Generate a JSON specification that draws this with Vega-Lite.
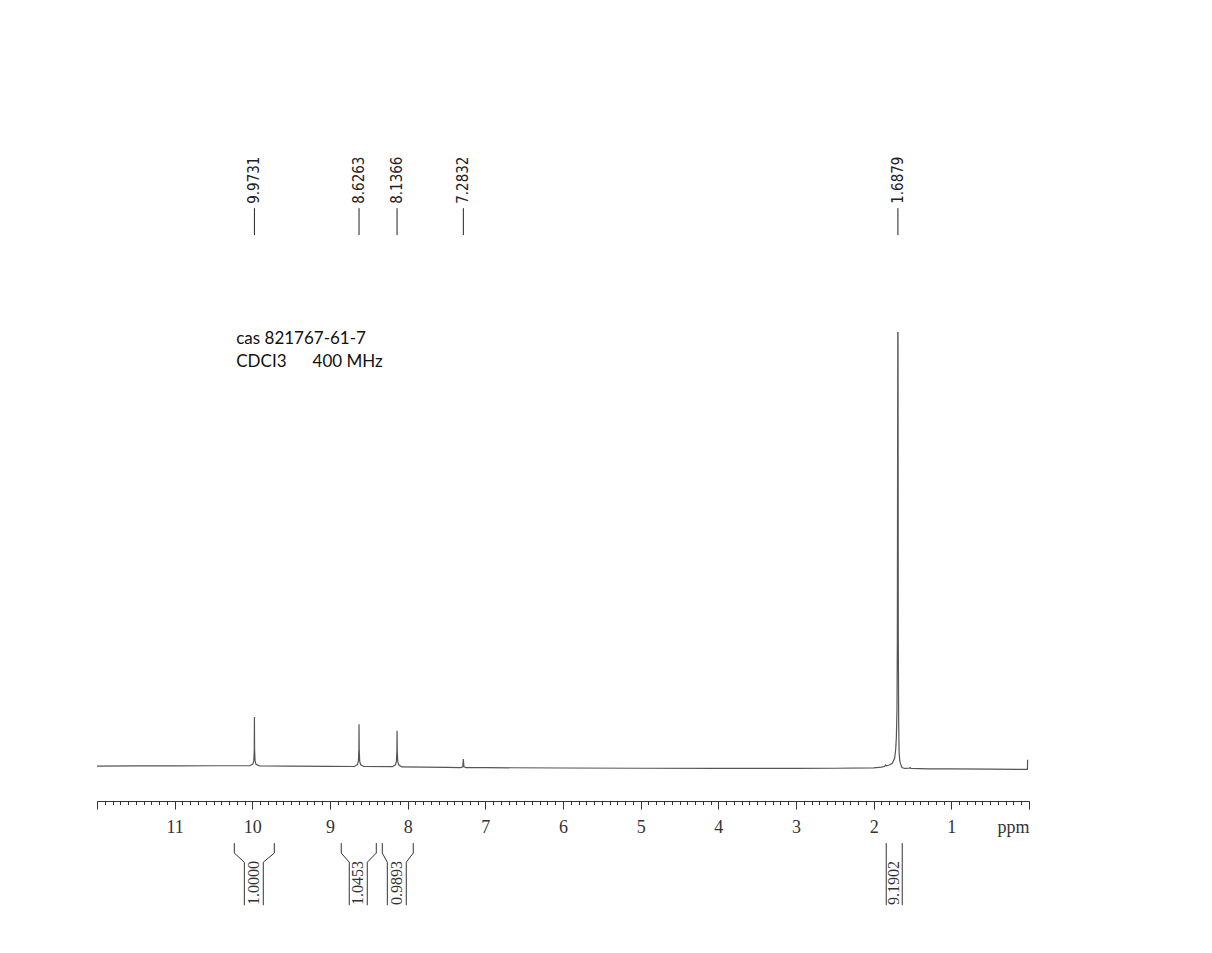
{
  "$schema": "https://vega.github.io/schema/vega-lite/v6.json",
  "width": 932,
  "height": 651,
  "autosize": "none",
  "padding": {"left": 97, "top": 150, "right": 183, "bottom": 152},
  "background": "white",
  "config": {"view": {"stroke": null}},
  "datasets": {
    "spectrum": [
      {"ppm": 12.0, "i": 0.05}, {"ppm": 11.5, "i": 0.1}, {"ppm": 11.0, "i": 0.1}, {"ppm": 10.5, "i": 0.12},
      {"ppm": 10.1, "i": 0.12}, {"ppm": 10.033, "i": 0.12}, {"ppm": 9.993, "i": 0.5}, {"ppm": 9.981, "i": 1.3},
      {"ppm": 9.975, "i": 4}, {"ppm": 9.9731, "i": 11.35}, {"ppm": 9.971, "i": 4}, {"ppm": 9.965, "i": 1.3},
      {"ppm": 9.953, "i": 0.45}, {"ppm": 9.91, "i": 0.1}, {"ppm": 9.5, "i": 0.05}, {"ppm": 9.0, "i": 0.0},
      {"ppm": 8.686, "i": -0.05}, {"ppm": 8.646, "i": 0.4}, {"ppm": 8.634, "i": 1.2}, {"ppm": 8.628, "i": 4},
      {"ppm": 8.6263, "i": 9.67}, {"ppm": 8.624, "i": 4}, {"ppm": 8.618, "i": 1.2}, {"ppm": 8.606, "i": 0.4},
      {"ppm": 8.566, "i": -0.05}, {"ppm": 8.197, "i": -0.1}, {"ppm": 8.157, "i": 0.35}, {"ppm": 8.145, "i": 1.1},
      {"ppm": 8.139, "i": 3.5}, {"ppm": 8.1366, "i": 8.2}, {"ppm": 8.134, "i": 3.5}, {"ppm": 8.128, "i": 1.1},
      {"ppm": 8.116, "i": 0.35}, {"ppm": 8.076, "i": -0.15}, {"ppm": 7.5, "i": -0.25}, {"ppm": 7.32, "i": -0.3},
      {"ppm": 7.29, "i": -0.1}, {"ppm": 7.2832, "i": 1.68}, {"ppm": 7.276, "i": -0.1}, {"ppm": 7.25, "i": -0.3},
      {"ppm": 7.0, "i": -0.32}, {"ppm": 6.0, "i": -0.4}, {"ppm": 5.0, "i": -0.45}, {"ppm": 4.0, "i": -0.5},
      {"ppm": 3.0, "i": -0.5}, {"ppm": 2.5, "i": -0.45}, {"ppm": 2.0, "i": -0.35}, {"ppm": 1.9, "i": -0.2},
      {"ppm": 1.86, "i": -0.05}, {"ppm": 1.847, "i": 0.3}, {"ppm": 1.835, "i": 0.1}, {"ppm": 1.8, "i": 0.3},
      {"ppm": 1.76, "i": 0.7}, {"ppm": 1.73, "i": 1.85}, {"ppm": 1.717, "i": 3.75}, {"ppm": 1.708, "i": 6.5},
      {"ppm": 1.7, "i": 13}, {"ppm": 1.695, "i": 30}, {"ppm": 1.6895, "i": 99.9}, {"ppm": 1.6865, "i": 99.9},
      {"ppm": 1.683, "i": 30}, {"ppm": 1.678, "i": 10}, {"ppm": 1.672, "i": 3}, {"ppm": 1.663, "i": 1.2},
      {"ppm": 1.655, "i": 0.6}, {"ppm": 1.636, "i": -0.3}, {"ppm": 1.6, "i": -0.5}, {"ppm": 1.54, "i": -0.45},
      {"ppm": 1.53, "i": -0.3}, {"ppm": 1.52, "i": -0.5}, {"ppm": 1.3, "i": -0.6}, {"ppm": 1.0, "i": -0.6},
      {"ppm": 0.5, "i": -0.65}, {"ppm": 0.1, "i": -0.7}, {"ppm": 0.025, "i": -0.7}, {"ppm": 0.02, "i": -0.7},
      {"ppm": 0.018, "i": 1.5}
    ],
    "peaks": [
      {"ppm": 9.9731}, {"ppm": 8.6263}, {"ppm": 8.1366}, {"ppm": 7.2832}, {"ppm": 1.6879}
    ],
    "integrals": [
      {"value": "1.0000", "mid": 9.981, "lo_out": 10.232, "lo_in": 10.103, "hi_in": 9.859, "hi_out": 9.717},
      {"value": "1.0453", "mid": 8.636, "lo_out": 8.855, "lo_in": 8.752, "hi_in": 8.52, "hi_out": 8.404},
      {"value": "0.9893", "mid": 8.14, "lo_out": 8.327, "lo_in": 8.262, "hi_in": 8.018, "hi_out": 7.928},
      {"value": "9.1902", "mid": 1.735, "lo_out": 1.838, "lo_in": 1.838, "hi_in": 1.632, "hi_out": 1.632}
    ],
    "note": [{"line1": "cas 821767-61-7", "solvent": "CDCI3", "freq": "400 MHz"}]
  },
  "layer": [
    {
      "data": {"name": "spectrum"},
      "mark": {"type": "line", "stroke": "#555", "strokeWidth": 1.2, "interpolate": "linear"},
      "encoding": {
        "x": {
          "field": "ppm", "type": "quantitative",
          "scale": {"domain": [12, 0], "nice": false, "zero": false},
          "axis": {
            "values": [0,0.1,0.2,0.3,0.4,0.5,0.6,0.7,0.8,0.9,1,1.1,1.2,1.3,1.4,1.5,1.6,1.7,1.8,1.9,2,2.1,2.2,2.3,2.4,2.5,2.6,2.7,2.8,2.9,3,3.1,3.2,3.3,3.4,3.5,3.6,3.7,3.8,3.9,4,4.1,4.2,4.3,4.4,4.5,4.6,4.7,4.8,4.9,5,5.1,5.2,5.3,5.4,5.5,5.6,5.7,5.8,5.9,6,6.1,6.2,6.3,6.4,6.5,6.6,6.7,6.8,6.9,7,7.1,7.2,7.3,7.4,7.5,7.6,7.7,7.8,7.9,8,8.1,8.2,8.3,8.4,8.5,8.6,8.7,8.8,8.9,9,9.1,9.2,9.3,9.4,9.5,9.6,9.7,9.8,9.9,10,10.1,10.2,10.3,10.4,10.5,10.6,10.7,10.8,10.9,11,11.1,11.2,11.3,11.4,11.5,11.6,11.7,11.8,11.9,12],
            "tickCount": 500,
            "labelExpr": "(datum.value > 0.5 && datum.value < 11.5 && abs(datum.value - round(datum.value)) < 0.01) ? format(datum.value, 'd') : ''",
            "labelOverlap": false, "labelFlush": false, "labelBound": false,
            "labelFont": "Liberation Serif", "labelFontSize": 18, "labelColor": "#333", "labelPadding": 9,
            "tickSize": {"condition": {"test": "abs(datum.value - round(datum.value)) < 0.01", "value": 8}, "value": 3.5},
            "tickColor": "#333", "tickWidth": 1, "domainColor": "#333", "domainWidth": 1, "grid": false,
            "title": "ppm", "titleFont": "Liberation Serif", "titleFontSize": 18, "titleFontWeight": "normal", "titleColor": "#333",
            "titleAnchor": "end", "titleAlign": "right", "titleBaseline": "alphabetic", "titleX": 932, "titleY": 31
          }
        },
        "y": {"field": "i", "type": "quantitative", "scale": {"domain": [-8, 142], "nice": false, "zero": false}, "axis": null}
      }
    },
    {
      "data": {"name": "peaks"},
      "mark": {"type": "rule", "stroke": "#222", "strokeWidth": 1},
      "encoding": {
        "x": {"field": "ppm", "type": "quantitative"},
        "y": {"datum": 122.4, "type": "quantitative"},
        "y2": {"datum": 128.6}
      }
    },
    {
      "data": {"name": "peaks"},
      "mark": {"type": "text", "angle": -90, "align": "left", "baseline": "middle", "font": "Liberation Sans Narrow, DejaVu Sans Condensed, sans-serif", "fontSize": 15, "fill": "#222"},
      "encoding": {
        "x": {"field": "ppm", "type": "quantitative"},
        "y": {"datum": 129.6, "type": "quantitative"},
        "text": {"field": "ppm", "type": "quantitative", "format": ".4f"}
      }
    },
    {
      "data": {"name": "integrals"},
      "mark": {"type": "rule", "stroke": "#333", "strokeWidth": 1},
      "encoding": {
        "x": {"field": "lo_out", "type": "quantitative"},
        "y": {"datum": -17.7, "type": "quantitative"},
        "y2": {"datum": -20}
      }
    },
    {
      "data": {"name": "integrals"},
      "mark": {"type": "rule", "stroke": "#333", "strokeWidth": 1},
      "encoding": {
        "x": {"field": "hi_out", "type": "quantitative"},
        "y": {"datum": -17.7, "type": "quantitative"},
        "y2": {"datum": -20}
      }
    },
    {
      "data": {"name": "integrals"},
      "mark": {"type": "rule", "stroke": "#333", "strokeWidth": 1},
      "encoding": {
        "x": {"field": "lo_out", "type": "quantitative"},
        "x2": {"field": "lo_in"},
        "y": {"datum": -20, "type": "quantitative"},
        "y2": {"datum": -22.1}
      }
    },
    {
      "data": {"name": "integrals"},
      "mark": {"type": "rule", "stroke": "#333", "strokeWidth": 1},
      "encoding": {
        "x": {"field": "hi_out", "type": "quantitative"},
        "x2": {"field": "hi_in"},
        "y": {"datum": -20, "type": "quantitative"},
        "y2": {"datum": -22.1}
      }
    },
    {
      "data": {"name": "integrals"},
      "mark": {"type": "rule", "stroke": "#333", "strokeWidth": 1},
      "encoding": {
        "x": {"field": "lo_in", "type": "quantitative"},
        "y": {"datum": -22.1, "type": "quantitative"},
        "y2": {"datum": -32}
      }
    },
    {
      "data": {"name": "integrals"},
      "mark": {"type": "rule", "stroke": "#333", "strokeWidth": 1},
      "encoding": {
        "x": {"field": "hi_in", "type": "quantitative"},
        "y": {"datum": -22.1, "type": "quantitative"},
        "y2": {"datum": -32}
      }
    },
    {
      "data": {"name": "integrals"},
      "mark": {"type": "text", "angle": -90, "align": "center", "baseline": "middle", "font": "Liberation Serif", "fontSize": 16, "fill": "#333"},
      "encoding": {
        "x": {"field": "mid", "type": "quantitative"},
        "y": {"datum": -26.9, "type": "quantitative"},
        "text": {"field": "value", "type": "nominal"}
      }
    },
    {
      "data": {"name": "note"},
      "mark": {"type": "text", "align": "left", "baseline": "alphabetic", "font": "Lato", "fontSize": 17, "fill": "#111"},
      "encoding": {
        "x": {"datum": 10.207, "type": "quantitative"},
        "y": {"datum": 97.3, "type": "quantitative"},
        "text": {"field": "line1", "type": "nominal"}
      }
    },
    {
      "data": {"name": "note"},
      "mark": {"type": "text", "align": "left", "baseline": "alphabetic", "font": "Lato", "fontSize": 17, "fill": "#111"},
      "encoding": {
        "x": {"datum": 10.207, "type": "quantitative"},
        "y": {"datum": 92.07, "type": "quantitative"},
        "text": {"field": "solvent", "type": "nominal"}
      }
    },
    {
      "data": {"name": "note"},
      "mark": {"type": "text", "align": "left", "baseline": "alphabetic", "font": "Lato", "fontSize": 17, "fill": "#111"},
      "encoding": {
        "x": {"datum": 9.224, "type": "quantitative"},
        "y": {"datum": 92.07, "type": "quantitative"},
        "text": {"field": "freq", "type": "nominal"}
      }
    }
  ]
}
